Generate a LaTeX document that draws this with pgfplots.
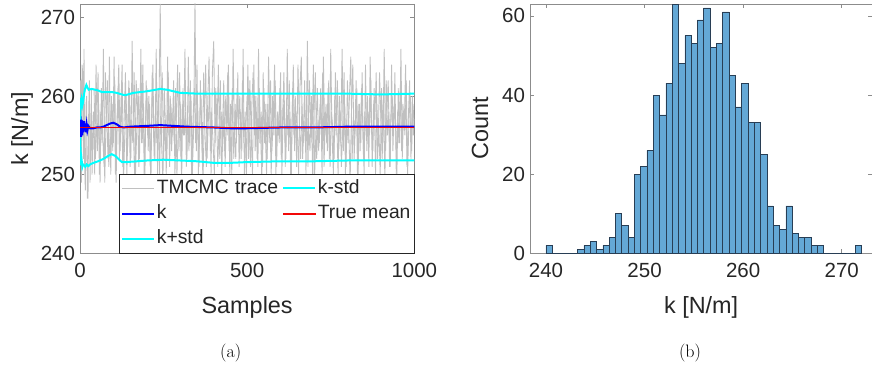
\documentclass[border=0pt]{standalone}
\usepackage{pgfplots}
\pgfplotsset{compat=1.18}
\usepackage{fontspec}
\newfontfamily\arial{Liberation Sans}
\definecolor{axgray}{RGB}{38,38,38}
\definecolor{histfill}{RGB}{100,168,214}
\definecolor{histedge}{RGB}{40,62,85}
\definecolor{tracegray}{RGB}{192,192,192}
\definecolor{mcyan}{RGB}{0,255,255}
\definecolor{mblue}{RGB}{0,0,255}
\definecolor{truered}{rgb}{0.95,0.03,0.03}
\pgfplotsset{
  mat/.style={
    scale only axis, anchor=south west,
    axis line style={black!45, line width=0.6pt},
    every tick/.style={black!45, line width=0.6pt},
    tick align=inside,
    major tick length=4pt,
    ticklabel style={font=\arial\fontsize{20.5}{24}\selectfont, text=axgray},
    /pgf/number format/assume math mode=true,
    /pgf/number format/1000 sep={},
    label style={font=\arial\fontsize{23.4}{28}\selectfont, text=axgray},
    xticklabel style={yshift=-6pt},
    yticklabel style={xshift=-1.5pt},
    xlabel style={at={(axis description cs:0.5,-0.2395)}, anchor=base},
  }
}
\begin{document}
\begin{tikzpicture}
\path[use as bounding box] (0pt,0pt) rectangle (872pt,367pt);
\begin{axis}[mat,
  at={(80pt,113.7pt)}, width=334.3pt, height=249.3pt,
  xmin=0, xmax=1000, ymin=240, ymax=271.7,
  xtick={0,500,1000}, ytick={240,250,260,270},
  xlabel={Samples}, ylabel={k [N/m]},
  ylabel style={at={(axis description cs:-0.1735,0.5)}, anchor=center},
  legend columns=2,
  legend cell align=left,
  legend style={at={(1,0)}, anchor=south east, draw=axgray, line width=0.6pt,
    fill=white, font=\arial\fontsize{19.3}{22}\selectfont, text=axgray,
    inner xsep=2pt, inner ysep=4pt, row sep=4pt, column sep=0pt,
    nodes={inner sep=1.5pt, text height=14pt, text depth=4pt}},
]
\addplot[tracegray, line width=0.85pt, forget plot] coordinates {
(0,256) (2,262) (4,249) (6,264) (8,263) (10,252) (12,266) (14,251) (16,248) (18,259) (20,260) (22,247) (24,247) (26,258) (28,262) (30,249) (32,254) (34,261) (36,250)
(40,258) (44,250) (48,264) (52,253) (56,259) (60,249) (64,261) (68,255) (72,251) (76,263)
(80,257) (84,252) (88,265) (92,250) (96,259) (100,254) (104,262) (108,249) (112,258) (116,264)
(120,253) (124,260) (128,251) (132,257) (136,263) (140,250) (144,256) (148,261) (152,252) (156,267)
(160,255) (164,249) (168,262) (172,258) (176,251) (180,260) (184,254) (188,264) (192,250) (196,257)
(200,261) (204,253) (208,259) (212,248) (216,263) (220,255) (224,252) (228,266) (232,250) (236,258)
(240,271.7) (244,254) (248,249) (252,261) (256,256) (260,252) (264,263) (268,251) (272,259) (276,255)
(280,262) (284,250) (288,257) (292,264) (296,253) (300,259) (304,249) (308,261) (312,255) (316,258)
(320,252) (324,265) (328,254) (332,260) (336,250) (340,256) (344,272) (348,253) (352,259) (356,251)
(360,262) (364,255) (368,249) (372,258) (376,264) (380,252) (384,257) (388,261) (392,250) (396,263)
(400,267) (404,254) (408,259) (412,251) (416,256) (420,262) (424,249) (428,258) (432,253) (436,260)
(440,255) (444,264) (448,250) (452,257) (456,261) (460,252) (464,259) (468,254) (472,263) (476,251)
(480,258) (484,253) (488,266) (492,249) (496,256) (500,260) (504,252) (508,262) (512,255) (516,250)
(520,264) (524,253) (528,258) (532,251) (536,261) (540,256) (544,249) (548,263) (552,254) (556,259)
(560,252) (564,265) (568,257) (572,250) (576,260) (580,255) (584,262) (588,251) (592,258) (596,254)
(600,263) (604,250) (608,259) (612,256) (616,252) (620,266) (624,253) (628,258) (632,249) (636,261)
(640,255) (644,260) (648,251) (652,264) (656,257) (660,252) (664,259) (668,254) (672,262) (676,250)
(680,267) (684,256) (688,253) (692,260) (696,249) (700,258) (704,263) (708,252) (712,257) (716,254)
(720,261) (724,250) (728,265) (732,255) (736,259) (740,253) (744,262) (748,251) (752,258) (756,256)
(760,252) (764,263) (768,257) (772,250) (776,260) (780,254) (784,266) (788,253) (792,259) (796,251)
(800,262) (804,256) (808,249) (812,258) (816,264) (820,252) (824,257) (828,261) (832,250) (836,259)
(840,254) (844,263) (848,252) (852,258) (856,255) (860,260) (864,251) (868,265) (872,256) (876,253)
(880,261) (884,250) (888,259) (892,254) (896,263) (900,257) (904,252) (908,260) (912,249) (916,262)
(920,255) (924,258) (928,251) (932,264) (936,253) (940,259) (944,256) (948,250) (952,261) (956,254)
(960,266) (964,252) (968,258) (972,255) (976,262) (980,250) (984,257) (988,260) (992,253) (996,259)
(1000,256)
};
\addplot[tracegray, line width=0.85pt, forget plot] coordinates {
(42,261) (46,252) (50,256) (54,263) (58,250) (62,258) (66,254) (70,266) (74,249) (78,257)
(82,262) (86,251) (90,255) (94,260) (98,253) (102,265) (106,250) (110,256) (114,261) (118,252)
(122,258) (126,264) (130,249) (134,255) (138,260) (142,253) (146,262) (150,251) (154,257) (158,254)
(162,263) (166,250) (170,256) (174,261) (178,252) (182,266) (186,254) (190,259) (194,249) (198,262)
(202,255) (206,260) (210,251) (214,257) (218,264) (222,252) (226,258) (230,254) (234,261) (238,250)
(242,259) (246,263) (250,252) (254,257) (258,250) (262,265) (266,255) (270,260) (274,253) (278,258)
(282,254) (286,261) (290,250) (294,256) (298,263) (302,252) (306,259) (310,255) (314,266) (318,251)
(322,258) (326,253) (330,262) (334,249) (338,257) (342,261) (346,254) (350,264) (354,250) (358,256)
(362,260) (366,252) (370,263) (374,255) (378,251) (382,259) (386,265) (390,253) (394,258) (398,254)
(402,250) (406,261) (410,256) (414,264) (418,252) (422,258) (426,255) (430,262) (434,251) (438,257)
(442,263) (446,253) (450,259) (454,250) (458,266) (462,255) (466,252) (470,261) (474,256) (478,260)
(482,252) (486,262) (490,254) (494,258) (498,250) (502,264) (506,256) (510,251) (514,259) (518,263)
(522,255) (526,260) (530,252) (534,266) (538,254) (542,258) (546,251) (550,261) (554,256) (558,250)
(562,259) (566,254) (570,262) (574,253) (578,257) (582,264) (586,250) (590,258) (594,255) (598,261)
(602,252) (606,257) (610,263) (614,251) (618,259) (622,255) (626,262) (630,250) (634,256) (638,264)
(642,253) (646,258) (650,256) (654,250) (658,261) (662,265) (666,252) (670,257) (674,254) (678,260)
(682,251) (686,262) (690,257) (694,254) (698,264) (702,250) (706,256) (710,261) (714,253) (718,259)
(722,256) (726,263) (730,251) (734,258) (738,254) (742,261) (746,252) (750,266) (754,255) (758,250)
(762,260) (766,255) (770,262) (774,253) (778,258) (782,251) (786,256) (790,263) (794,250) (798,257)
(802,254) (806,260) (810,265) (814,252) (818,257) (822,255) (826,262) (830,250) (834,259) (838,253)
(842,261) (846,256) (850,250) (854,264) (858,253) (862,258) (866,255) (870,262) (874,251) (878,259)
(882,257) (886,263) (890,252) (894,256) (898,250) (902,261) (906,254) (910,266) (914,253) (918,258)
(922,262) (926,251) (930,257) (934,260) (938,255) (942,263) (946,250) (950,258) (954,254) (958,261)
(962,253) (966,259) (970,256) (974,264) (978,251) (982,257) (986,262) (990,252) (994,260) (998,255)
};
\addplot[color=mcyan, line width=2pt, forget plot] coordinates {
(1,255.0) (2,252.0) (3,251.2) (5,251.8) (7,251.0) (9,251.3) (12,251.2) (16,251.0) (20,251.3) (25,251.1) (30,251.3) (40,251.5) (54,251.7) (70,252.0) (85,252.4) (95,252.6) (105,252.4) (115,252.0) (125,251.6) (140,251.6) (200,251.8) (250,251.9) (300,251.8) (350,251.7) (400,251.5) (450,251.5) (500,251.6) (600,251.7) (700,251.7) (800,251.8) (900,251.8) (1000,251.8)
};
\addplot[color=mblue, line width=2pt, forget plot] coordinates {
(1,255.0) (2,257.4) (3,254.8) (4,257.0) (5,255.3) (6,256.9) (7,255.0) (8,256.6) (10,255.4) (12,256.8) (14,255.6) (16,256.5) (18,255.4) (20,256.3) (22,255.6) (25,256.2) (30,255.9) (40,255.9) (50,256.0) (60,256.0) (70,256.1) (80,256.3) (90,256.5) (100,256.6) (110,256.4) (120,256.1) (130,256.0) (150,256.1) (200,256.2) (240,256.3) (280,256.2) (320,256.1) (400,256.0) (450,255.9) (500,255.9) (600,256.0) (700,256.0) (800,256.1) (900,256.1) (1000,256.1)
};
\addplot[fill=truered, draw=none, forget plot] coordinates {(0,255.93) (1000,255.93) (1000,256.07) (0,256.07)};
\addplot[color=mcyan, line width=2pt, forget plot] coordinates {
(1,257.0) (2,259.8) (3,258.6) (5,259.4) (7,258.8) (9,259.2) (12,260.2) (15,260.9) (19,261.4) (22,261.1) (26,260.8) (35,260.9) (45,260.8) (55,260.7) (65,260.5) (80,260.5) (95,260.5) (110,260.4) (125,260.2) (135,260.1) (160,260.4) (200,260.6) (240,260.9) (260,260.8) (280,260.6) (300,260.4) (350,260.3) (400,260.3) (500,260.3) (600,260.3) (700,260.3) (800,260.3) (900,260.2) (1000,260.3)
};
\addlegendimage{legend image code/.code={\draw[tracegray, line width=0.85pt] (0pt,0pt) -- (32pt,0pt);}}
\addlegendentry[text width=124pt]{TMCMC trace}
\addlegendimage{legend image code/.code={\draw[mcyan, line width=2pt] (0pt,0pt) -- (32pt,0pt);}}
\addlegendentry{k-std}
\addlegendimage{legend image code/.code={\draw[mblue, line width=2pt] (0pt,0pt) -- (32pt,0pt);}}
\addlegendentry[text width=124pt]{k}
\addlegendimage{legend image code/.code={\fill[truered] (0pt,-0.6pt) rectangle (32pt,0.6pt);}}
\addlegendentry{True mean}
\addlegendimage{legend image code/.code={\draw[mcyan, line width=2pt] (0pt,0pt) -- (32pt,0pt);}}
\addlegendentry[text width=124pt]{k+std}
\end{axis}
\begin{axis}[mat,
  at={(530pt,113.7pt)}, width=342.3pt, height=249.3pt,
  xmin=238.38, xmax=273.1, ymin=0, ymax=63,
  xtick={240,250,260,270}, ytick={0,20,40,60},
  xlabel={k [N/m]}, ylabel={Count},
  ylabel style={at={(axis description cs:-0.146,0.5)}, anchor=center},
]
\addplot[ybar interval, fill=histfill, draw=histedge, line width=0.5pt] coordinates {
(240.00,2) (240.64,0) (241.28,0) (241.92,0) (242.56,0) (243.20,1) (243.84,2) (244.48,3) (245.12,1) (245.76,2)
(246.40,4) (247.04,10) (247.68,7) (248.32,4) (248.96,20) (249.60,22) (250.24,26) (250.88,40) (251.52,35) (252.16,43)
(252.80,63) (253.44,48) (254.08,55) (254.72,53) (255.36,59) (256.00,62) (256.64,52) (257.28,53) (257.92,61) (258.56,45)
(259.20,37) (259.84,43) (260.48,33) (261.12,33) (261.76,25) (262.40,12) (263.04,7) (263.68,6) (264.32,12) (264.96,5)
(265.60,4) (266.24,4) (266.88,2) (267.52,2) (268.16,0) (268.80,0) (269.44,0) (270.08,0) (270.72,0) (271.36,2)
(272.00,2)
};
\end{axis}
\node[font=\fontsize{18}{20}\selectfont] at (230.7pt,14pt) {(a)};
\node[font=\fontsize{18}{20}\selectfont] at (690pt,14pt) {(b)};
\end{tikzpicture}
\end{document}
